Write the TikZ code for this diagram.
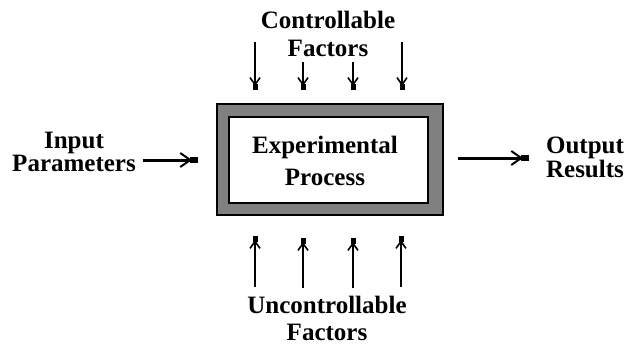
\documentclass[tikz,border=0pt]{standalone}
\usepackage{fontspec}
\setmainfont{Liberation Serif}
\usetikzlibrary{arrows.meta}

\tikzset{
  lbl/.style={font=\bfseries\fontsize{25}{#1}\selectfont, align=center, inner sep=0pt},
  lbl/.default=30,
  fact/.style={line width=2pt, -{Straight Barb[length=7pt,width=10pt,line width=1.6pt,sep=-2pt]Square[length=6pt,width=5pt]}},
  flow/.style={line width=3pt, -{Straight Barb[length=10pt,width=14pt,line width=2pt,sep=-2pt]Square[length=8pt,width=6pt]}}
}

\begin{document}
\begin{tikzpicture}[x=1pt,y=-1pt]
  \useasboundingbox (0,0) rectangle (628,349);
  % the process box
  \node (frame) at (330,159.5) [draw, line width=1.2pt, fill=black!50, minimum width=226pt, minimum height=111pt] {};
  \node (proc) at (328.5,160) [draw, line width=1.2pt, fill=white, minimum width=199pt, minimum height=86pt] {};
  \node (proctxt) at (325,161) [lbl=32] {Experimental\\Process};

  % labels
  \node (ctrl) at (328,34) [lbl=28] {Controllable\\Factors};
  \node (unctrl) at (327,318) [lbl=27] {Uncontrollable\\Factors};
  \node (input) at (74,152) [lbl=20] {Input\\Parameters};
  \node (output) at (585,157) [lbl=24] {Output\\Results};

  % controllable factors
  \coordinate (c1) at (255,42);  \coordinate (c1e) at (255,90);
  \coordinate (c2) at (303,62);  \coordinate (c2e) at (303,90);
  \coordinate (c3) at (353,62);  \coordinate (c3e) at (353,90);
  \coordinate (c4) at (402,42);  \coordinate (c4e) at (402,90);
  \draw[fact] (c1)--(c1e);
  \draw[fact] (c2)--(c2e);
  \draw[fact] (c3)--(c3e);
  \draw[fact] (c4)--(c4e);

  % uncontrollable factors
  \coordinate (u1) at (255,287);  \coordinate (u1e) at (255,236);
  \coordinate (u2) at (303,288);  \coordinate (u2e) at (303,238);
  \coordinate (u3) at (353,288);  \coordinate (u3e) at (353,238);
  \coordinate (u4) at (401,287);  \coordinate (u4e) at (401,236);
  \draw[fact] (u1)--(u1e);
  \draw[fact] (u2)--(u2e);
  \draw[fact] (u3)--(u3e);
  \draw[fact] (u4)--(u4e);

  % in and out
  \coordinate (ins) at (143,160);
  \coordinate (ine) at (198,160);
  \draw[flow] (ins)--(ine);
  \coordinate (outs) at (458,158);
  \coordinate (oute) at (529,158);
  \draw[flow] (outs)--(oute);
 \end{tikzpicture}
\end{document}
